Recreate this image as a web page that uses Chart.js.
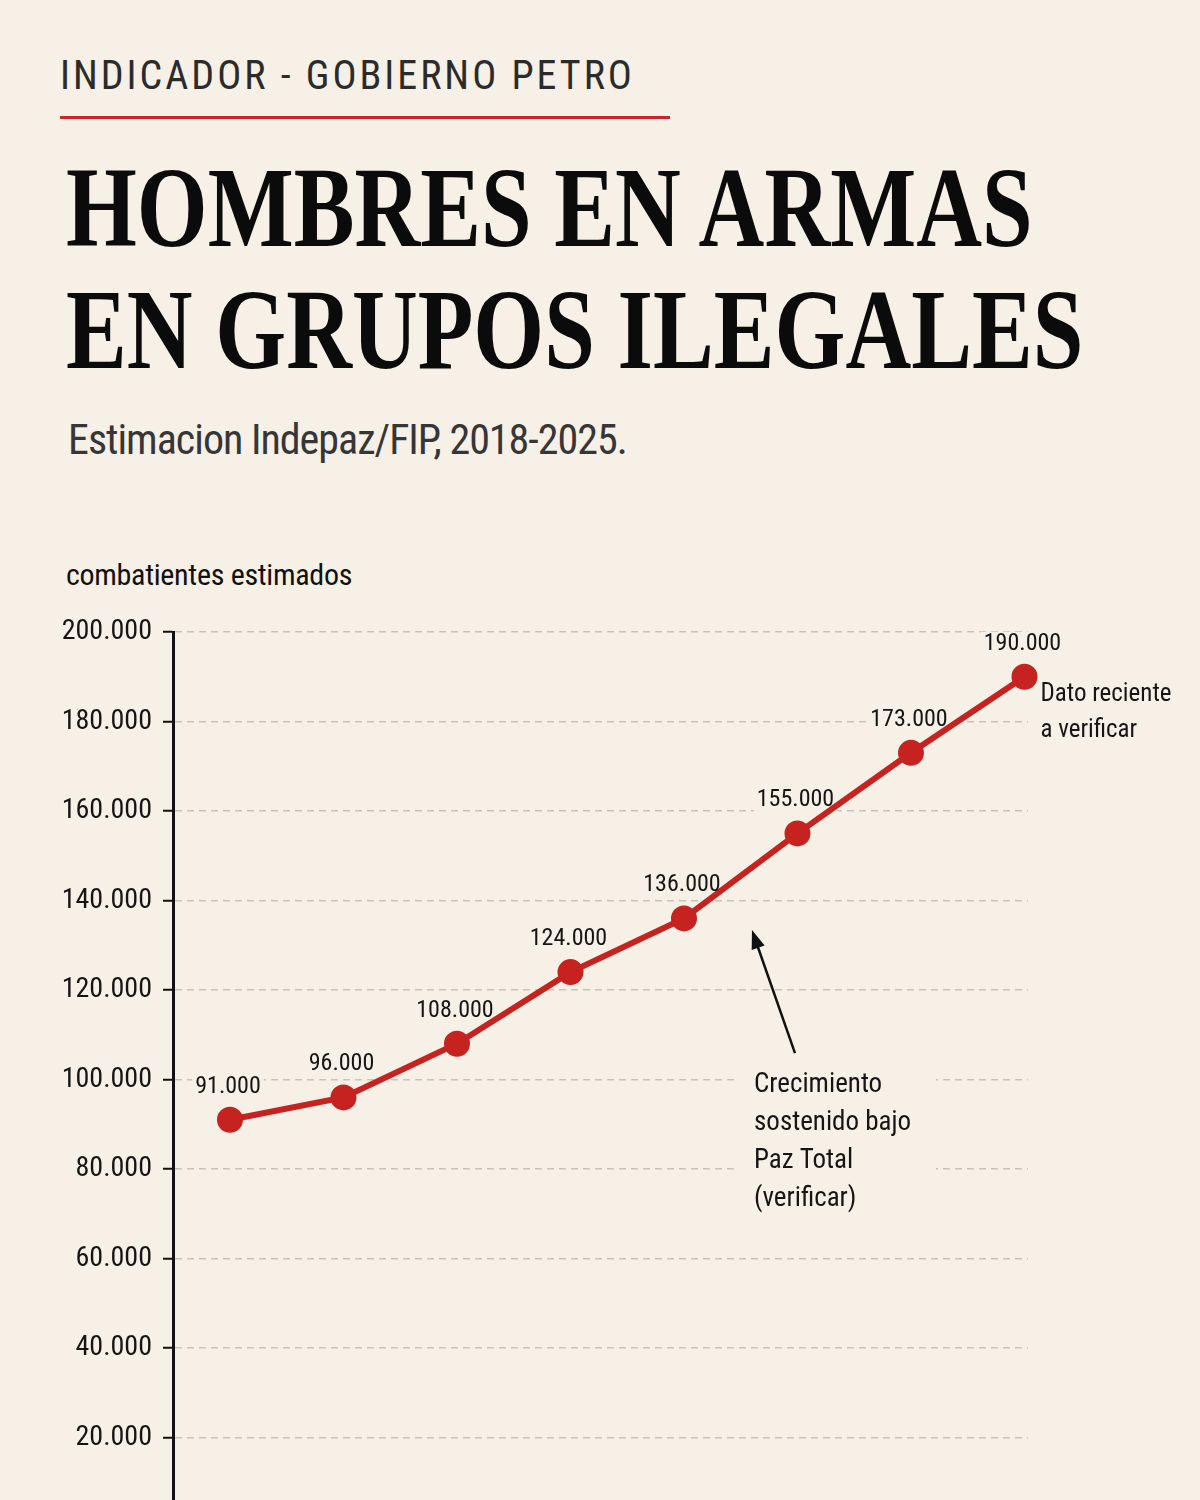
<!DOCTYPE html>
<html lang="es">
<head>
<meta charset="utf-8">
<title>Hombres en armas en grupos ilegales</title>
<script src="https://cdn.jsdelivr.net/npm/chart.js@4.4.1/dist/chart.umd.min.js"></script>
<style>
  html, body { margin: 0; padding: 0; }
  body {
    width: 1200px; height: 1500px; overflow: hidden; position: relative;
    background: #f6f0e6; color: #111;
    font-family: "Roboto Condensed", "DejaVu Sans Condensed", sans-serif;
  }
  .abs { position: absolute; white-space: nowrap; line-height: 1; }
  #kicker { left: 60px; top: 56px; font-size: 40px; letter-spacing: 3px; color: #2b2b2b; }
  #rule { position: absolute; left: 60px; top: 116px; width: 610px; height: 3px; background: #c62828; }
  .titulo {
    left: 66px; font-family: "Liberation Serif", "DejaVu Serif", serif; font-weight: bold;
    font-size: 115px; color: #0b0b0b; transform-origin: 0 0; transform: scaleX(0.792);
  }
  #t1 { top: 150px; }
  #t2 { top: 272px; }
  #sub { left: 68px; top: 419px; font-size: 42px; letter-spacing: -1px; color: #363636; }
  #ytitle { left: 66px; top: 560px; font-size: 30px; letter-spacing: -0.3px; color: #111; }
  #wrap { position: absolute; left: 0; top: 540px; width: 1200px; height: 1020px; }
</style>
</head>
<body>
<div class="abs" id="kicker">INDICADOR - GOBIERNO PETRO</div>
<div id="rule"></div>
<div class="abs titulo" id="t1">HOMBRES EN ARMAS</div>
<div class="abs titulo" id="t2">EN GRUPOS ILEGALES</div>
<div class="abs" id="sub">Estimacion Indepaz/FIP, 2018-2025.</div>
<div class="abs" id="ytitle">combatientes estimados</div>
<div id="wrap"><canvas id="grafico" width="1200" height="1020"></canvas></div>

<script>
const anos = [2018, 2019, 2020, 2021, 2022, 2023, 2024, 2025];
const combatientes = [91000, 96000, 108000, 124000, 136000, 155000, 173000, 190000];
const ticksY = [0, 20000, 40000, 60000, 80000, 100000, 120000, 140000, 160000, 180000, 200000];
const notaReciente = ["Dato reciente", "a verificar"];
const notaPaz = ["Crecimiento", "sostenido bajo", "Paz Total", "(verificar)"];

const FUENTE = "'Roboto Condensed', 'DejaVu Sans Condensed', sans-serif";
const FONDO = "#f6f0e6";
const ROJO = "#c62320";

// 91000 -> "91.000"
function formato(v) {
  return String(v).replace(/\B(?=(\d{3})+(?!\d))/g, ".");
}

// etiquetas, flecha y notas
const notas = {
  id: "notas",
  beforeDatasetsDraw(chart) {
    const ctx = chart.ctx;
    const x = chart.scales.x, y = chart.scales.y;
    const meta = chart.getDatasetMeta(0);
    ctx.save();
    ctx.fillStyle = FONDO;
    ctx.font = "24px " + FUENTE;
    meta.data.forEach((p, i) => {
      const w = ctx.measureText(formato(combatientes[i])).width;
      ctx.fillRect(p.x - 2 - w / 2 - 3, p.y - 45, w + 6, 24);
    });
    // caja de la nota central
    const nx = x.getPixelForValue(2022.617);
    const ny = y.getPixelForValue(98700);
    ctx.fillRect(nx - 18, ny - 18, 200, 150);
    ctx.restore();
  },
  afterDatasetsDraw(chart) {
    const ctx = chart.ctx;
    const x = chart.scales.x, y = chart.scales.y;
    const meta = chart.getDatasetMeta(0);
    ctx.save();
    ctx.fillStyle = "#151515";
    ctx.font = "24px " + FUENTE;
    ctx.textAlign = "center";
    ctx.textBaseline = "middle";
    meta.data.forEach((p, i) => {
      ctx.fillText(formato(combatientes[i]), p.x - 2, p.y - 33);
    });

    // nota del ultimo dato
    const ult = meta.data[meta.data.length - 1];
    ctx.textAlign = "left";
    ctx.font = "25px " + FUENTE;
    notaReciente.forEach((t, i) => ctx.fillText(t, ult.x + 16, ult.y + 18 + i * 36));

    // nota central
    const nx = x.getPixelForValue(2022.617);
    const ny = y.getPixelForValue(98700);
    ctx.font = "27px " + FUENTE;
    notaPaz.forEach((t, i) => ctx.fillText(t, nx, ny + i * 38));

    // flecha
    const ax1 = x.getPixelForValue(2022.978), ay1 = y.getPixelForValue(105900);
    const ax2 = x.getPixelForValue(2022.599), ay2 = y.getPixelForValue(133400);
    const ang = Math.atan2(ay2 - ay1, ax2 - ax1);
    ctx.strokeStyle = "#111";
    ctx.lineWidth = 2.5;
    ctx.beginPath();
    ctx.moveTo(ax1, ay1);
    ctx.lineTo(ax2 - Math.cos(ang) * 10, ay2 - Math.sin(ang) * 10);
    ctx.stroke();
    ctx.fillStyle = "#111";
    ctx.beginPath();
    ctx.moveTo(ax2, ay2);
    ctx.lineTo(ax2 - Math.cos(ang - 0.35) * 20, ay2 - Math.sin(ang - 0.35) * 20);
    ctx.lineTo(ax2 - Math.cos(ang + 0.35) * 20, ay2 - Math.sin(ang + 0.35) * 20);
    ctx.closePath();
    ctx.fill();
    ctx.restore();
  }
};

new Chart(document.getElementById("grafico"), {
  type: "line",
  data: {
    datasets: [{
      data: anos.map((a, i) => ({ x: a, y: combatientes[i] })),
      borderColor: ROJO,
      backgroundColor: ROJO,
      borderWidth: 6,
      pointRadius: 10,
      pointBackgroundColor: ROJO,
      pointBorderColor: ROJO,
      tension: 0,
      clip: false
    }]
  },
  options: {
    responsive: false,
    animation: false,
    events: [],
    layout: { padding: { top: 92, right: 172, bottom: 33, left: 0 } },
    plugins: { legend: { display: false }, tooltip: { enabled: false } },
    scales: {
      x: { type: "linear", min: 2017.498, max: 2025.031, display: false },
      y: {
        min: 0, max: 200000,
        afterFit(s) { s.width = 173; },
        afterBuildTicks(s) { s.ticks = ticksY.map(v => ({ value: v })); },
        border: { display: true, color: "#111", width: 3, dash: [7, 5] },
        grid: {
          color: "#c9c4bb", lineWidth: 1.5,
          drawTicks: true, tickLength: 10, tickColor: "#111", tickWidth: 2
        },
        ticks: {
          padding: 11, color: "#151515",
          font: { family: FUENTE, size: 28 },
          callback: v => formato(v)
        }
      }
    }
  },
  plugins: [notas]
});
</script>
</body>
</html>
